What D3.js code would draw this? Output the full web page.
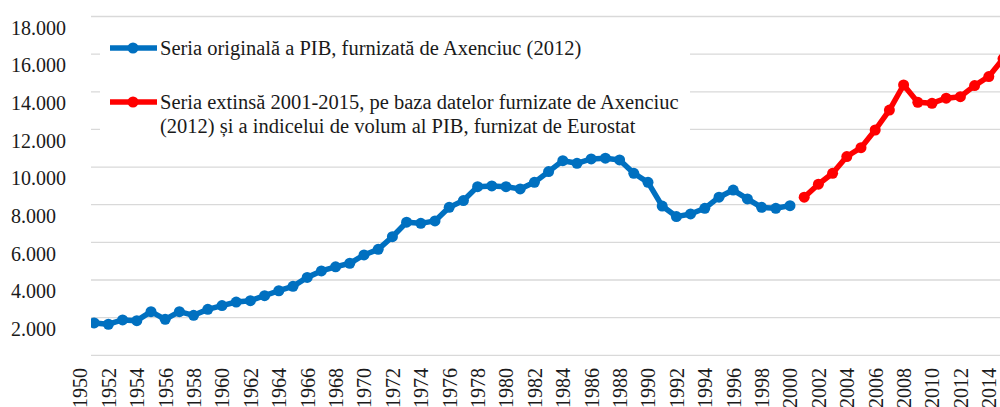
<!DOCTYPE html>
<html>
<head>
<meta charset="utf-8">
<script src="https://cdn.jsdelivr.net/npm/d3@7"></script>
<style>
  body { margin: 0; background: #fff; }
  svg { display: block; }
  svg text { font-family: "Liberation Serif", "Times New Roman", serif; }
</style>
</head>
<body>
<div id="chart"></div>
<script>
// Date
const blueYears = d3.range(1950, 2001);
const blueValues = [1730, 1720, 1650, 1880, 1840, 2320, 1910, 2320, 2125, 2440,
    2640, 2830, 2900, 3170, 3430, 3665, 4140, 4480, 4700, 4890,
    5330, 5630, 6300, 7070, 7010, 7140, 7860, 8220, 8960, 9000,
    8960, 8840, 9190, 9760, 10340, 10200, 10430, 10470, 10380, 9670,
    9190, 7930, 7370, 7510, 7810, 8400, 8780, 8310, 7860, 7810,
    7950];
const redYears = d3.range(2001, 2016);
const redValues = [8400, 9090, 9670, 10560, 11030, 11970, 13030, 14360, 13440, 13390,
    13660, 13740, 14330, 14810, 15750];
const xTickLabels = d3.range(1950, 2015, 2);
const yTickValues = d3.range(2000, 18001, 2000);
const gridValues = d3.range(0, 18001, 2000);
const legendLabels = [
    ['Seria originală a PIB, furnizată de Axenciuc (2012)'],
    ['Seria extinsă 2001-2015, pe baza datelor furnizate de Axenciuc',
     '(2012) și a indicelui de volum al PIB, furnizat de Eurostat']
];
const seriesColors = ['#0070C0', '#FF0000'];

const width = 1000, height = 407;
const plotLeft = 91, plotRight = 1000;
const serif = '"Liberation Serif", "Times New Roman", serif';

const svg = d3.select('#chart')
    .append('svg')
    .attr('width', width)
    .attr('height', height);

// Scale
const x = d3.scaleLinear().domain([1950, 2015]).range([80, 1003]);
const y = d3.scaleLinear().domain([0, 18000]).range([355.3, 16.5]);

const ro = d3.formatLocale({decimal: ',', thousands: '.', grouping: [3], currency: ['', '']});
const fmt = ro.format(',.0f');

// Grila
svg.append('g')
    .selectAll('line')
    .data(gridValues)
    .join('line')
    .attr('x1', plotLeft)
    .attr('x2', plotRight)
    .attr('y1', d => y(d))
    .attr('y2', d => y(d))
    .attr('stroke', '#d9d9d9')
    .attr('stroke-width', 1.3);

// Axa Y (etichetele sunt decalate fata de grila, ca in original)
const yAxis = svg.append('g')
    .attr('transform', 'translate(0,11)')
    .call(d3.axisLeft(y).tickValues(yTickValues).tickFormat(fmt).tickSize(0))
    .attr('font-family', serif)
    .attr('font-size', 20);
yAxis.select('.domain').remove();
yAxis.selectAll('text')
    .attr('x', 11)
    .attr('dy', '0.34em')
    .attr('text-anchor', 'start')
    .attr('fill', '#1a1a1a');

// Axa X
const xAxis = svg.append('g')
    .attr('transform', 'translate(0,368)')
    .call(d3.axisBottom(x).tickValues(xTickLabels).tickFormat(d3.format('d')).tickSize(0))
    .attr('font-family', serif)
    .attr('font-size', 20);
xAxis.select('.domain').remove();
xAxis.selectAll('text')
    .attr('transform', 'rotate(-90)')
    .attr('x', 0)
    .attr('y', 0)
    .attr('dy', '0.34em')
    .attr('text-anchor', 'end')
    .attr('fill', '#1a1a1a');

// Legenda - fundal alb peste grila
svg.append('rect')
    .attr('x', 100)
    .attr('y', 28)
    .attr('width', 590)
    .attr('height', 122)
    .attr('fill', '#fff');

// Linii
svg.append('clipPath')
    .attr('id', 'plot-clip')
    .append('rect')
    .attr('x', plotLeft)
    .attr('y', 0)
    .attr('width', plotRight - plotLeft)
    .attr('height', 362);

const plot = svg.append('g').attr('clip-path', 'url(#plot-clip)');

const series = [
    {years: blueYears, values: blueValues, color: seriesColors[0]},
    {years: redYears, values: redValues, color: seriesColors[1]}
];

const line = d3.line()
    .x(d => x(d[0]))
    .y(d => y(d[1]));

series.forEach(s => {
    const pts = s.years.map((yr, i) => [yr, s.values[i]]);
    plot.append('path')
        .datum(pts)
        .attr('fill', 'none')
        .attr('stroke', s.color)
        .attr('stroke-width', 5.5)
        .attr('stroke-linejoin', 'round')
        .attr('d', line);
    plot.append('g')
        .selectAll('circle')
        .data(pts)
        .join('circle')
        .attr('cx', d => x(d[0]))
        .attr('cy', d => y(d[1]))
        .attr('r', 5.5)
        .attr('fill', s.color);
});

// Legenda
const legendY = [48, 102];
legendLabels.forEach((lines, i) => {
    const g = svg.append('g').attr('transform', `translate(0,${legendY[i]})`);
    g.append('line')
        .attr('x1', 110)
        .attr('x2', 157)
        .attr('stroke', seriesColors[i])
        .attr('stroke-width', 5.5);
    g.append('circle')
        .attr('cx', 133)
        .attr('r', 5.5)
        .attr('fill', seriesColors[i]);
    lines.forEach((t, j) => {
        g.append('text')
            .attr('x', 160)
            .attr('y', j * 24)
            .attr('dy', '0.34em')
            .attr('fill', '#1a1a1a')
            .style('font-size', '20.5px')
            .text(t);
    });
});
</script>
</body>
</html>
